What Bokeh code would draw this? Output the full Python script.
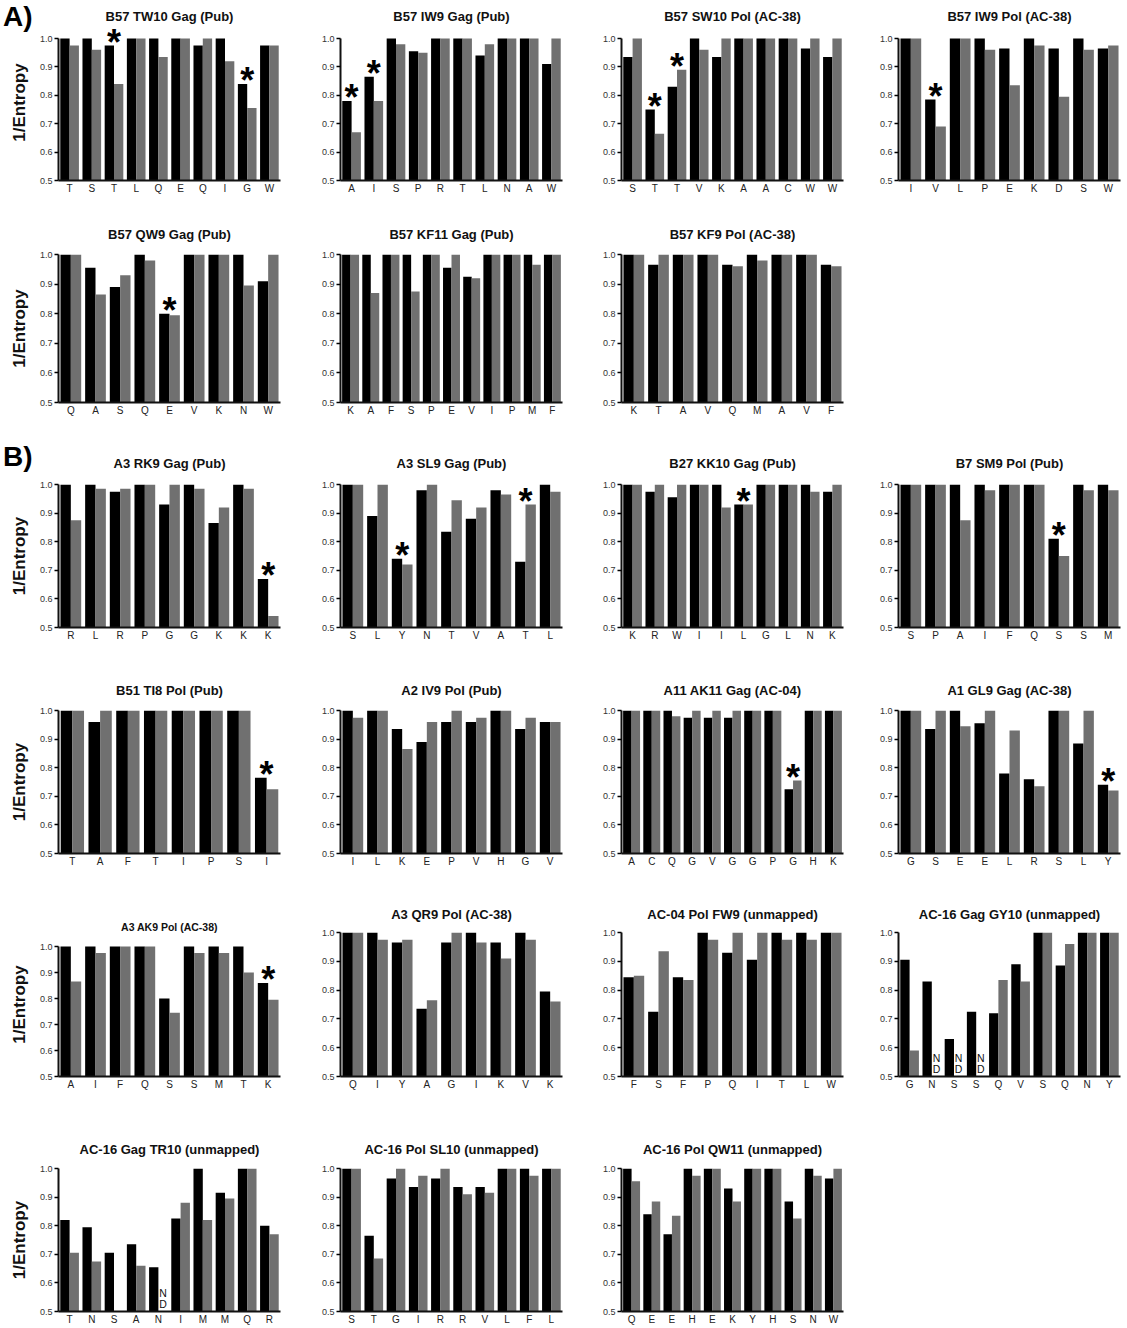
import numpy as np
from bokeh.plotting import figure
from bokeh.layouts import column, row
from bokeh.models import (Range1d, FixedTicker, PrintfTickFormatter, ColumnDataSource,
                          LabelSet, Div)
from bokeh.core.properties import value
from bokeh.transform import dodge
from bokeh.embed import file_html
from bokeh.resources import INLINE

# ---------------- data ----------------
# Panel A
tw10_title = "B57 TW10 Gag (Pub)"
tw10_labels = ["T", "S", "T", "L", "Q", "E", "Q", "I", "G", "W"]
tw10_black = [1.0, 1.0, 0.975, 1.0, 1.0, 1.0, 0.975, 1.0, 0.84, 0.975]
tw10_gray = [0.975, 0.96, 0.84, 1.0, 0.935, 1.0, 1.0, 0.92, 0.755, 0.975]
tw10_stars = [2, 8]

iw9g_title = "B57 IW9 Gag (Pub)"
iw9g_labels = ["A", "I", "S", "P", "R", "T", "L", "N", "A", "W"]
iw9g_black = [0.78, 0.865, 1.0, 0.955, 1.0, 1.0, 0.94, 1.0, 1.0, 0.91]
iw9g_gray = [0.67, 0.78, 0.98, 0.95, 1.0, 1.0, 0.98, 1.0, 1.0, 1.0]
iw9g_stars = [0, 1]

sw10_title = "B57 SW10 Pol (AC-38)"
sw10_labels = ["S", "T", "T", "V", "K", "A", "A", "C", "W", "W"]
sw10_black = [0.935, 0.75, 0.83, 1.0, 0.935, 1.0, 1.0, 1.0, 0.965, 0.935]
sw10_gray = [1.0, 0.665, 0.89, 0.96, 1.0, 1.0, 1.0, 1.0, 1.0, 1.0]
sw10_stars = [1, 2]

iw9p_title = "B57 IW9 Pol (AC-38)"
iw9p_labels = ["I", "V", "L", "P", "E", "K", "D", "S", "W"]
iw9p_black = [1.0, 0.785, 1.0, 1.0, 0.965, 1.0, 0.965, 1.0, 0.965]
iw9p_gray = [1.0, 0.69, 1.0, 0.96, 0.835, 0.975, 0.795, 0.96, 0.975]
iw9p_stars = [1]

qw9_title = "B57 QW9 Gag (Pub)"
qw9_labels = ["Q", "A", "S", "Q", "E", "V", "K", "N", "W"]
qw9_black = [1.0, 0.955, 0.89, 1.0, 0.80, 1.0, 1.0, 1.0, 0.91]
qw9_gray = [1.0, 0.865, 0.93, 0.98, 0.795, 1.0, 1.0, 0.895, 1.0]
qw9_stars = [4]

kf11_title = "B57 KF11 Gag (Pub)"
kf11_labels = ["K", "A", "F", "S", "P", "E", "V", "I", "P", "M", "F"]
kf11_black = [1.0, 1.0, 1.0, 1.0, 1.0, 0.955, 0.925, 1.0, 1.0, 1.0, 1.0]
kf11_gray = [1.0, 0.87, 1.0, 0.875, 1.0, 1.0, 0.92, 1.0, 1.0, 0.965, 1.0]
kf11_stars = []

kf9_title = "B57 KF9 Pol (AC-38)"
kf9_labels = ["K", "T", "A", "V", "Q", "M", "A", "V", "F"]
kf9_black = [1.0, 0.965, 1.0, 1.0, 0.965, 1.0, 1.0, 1.0, 0.965]
kf9_gray = [1.0, 1.0, 1.0, 1.0, 0.96, 0.98, 1.0, 1.0, 0.96]
kf9_stars = []

# Panel B
rk9_title = "A3 RK9 Gag (Pub)"
rk9_labels = ["R", "L", "R", "P", "G", "G", "K", "K", "K"]
rk9_black = [1.0, 1.0, 0.975, 1.0, 0.93, 1.0, 0.865, 1.0, 0.67]
rk9_gray = [0.875, 0.985, 0.985, 1.0, 1.0, 0.985, 0.92, 0.985, 0.54]
rk9_stars = [8]

sl9_title = "A3 SL9 Gag (Pub)"
sl9_labels = ["S", "L", "Y", "N", "T", "V", "A", "T", "L"]
sl9_black = [1.0, 0.89, 0.74, 0.98, 0.835, 0.88, 0.98, 0.73, 1.0]
sl9_gray = [1.0, 1.0, 0.72, 1.0, 0.945, 0.92, 0.965, 0.93, 0.975]
sl9_stars = [2, 7]

kk10_title = "B27 KK10 Gag (Pub)"
kk10_labels = ["K", "R", "W", "I", "I", "L", "G", "L", "N", "K"]
kk10_black = [1.0, 0.975, 0.955, 1.0, 1.0, 0.93, 1.0, 1.0, 1.0, 0.975]
kk10_gray = [1.0, 1.0, 1.0, 1.0, 0.92, 0.93, 1.0, 1.0, 0.975, 1.0]
kk10_stars = [5]

sm9_title = "B7 SM9 Pol (Pub)"
sm9_labels = ["S", "P", "A", "I", "F", "Q", "S", "S", "M"]
sm9_black = [1.0, 1.0, 1.0, 1.0, 1.0, 1.0, 0.81, 1.0, 1.0]
sm9_gray = [1.0, 1.0, 0.875, 0.98, 1.0, 1.0, 0.75, 0.98, 0.98]
sm9_stars = [6]

ti8_title = "B51 TI8 Pol (Pub)"
ti8_labels = ["T", "A", "F", "T", "I", "P", "S", "I"]
ti8_black = [1.0, 0.96, 1.0, 1.0, 1.0, 1.0, 1.0, 0.765]
ti8_gray = [1.0, 1.0, 1.0, 1.0, 1.0, 1.0, 1.0, 0.725]
ti8_stars = [7]

iv9_title = "A2 IV9 Pol (Pub)"
iv9_labels = ["I", "L", "K", "E", "P", "V", "H", "G", "V"]
iv9_black = [1.0, 1.0, 0.935, 0.89, 0.96, 0.96, 1.0, 0.935, 0.96]
iv9_gray = [0.975, 1.0, 0.865, 0.96, 1.0, 0.975, 1.0, 0.975, 0.96]
iv9_stars = []

ak11_title = "A11 AK11 Gag (AC-04)"
ak11_labels = ["A", "C", "Q", "G", "V", "G", "G", "P", "G", "H", "K"]
ak11_black = [1.0, 1.0, 1.0, 0.975, 0.975, 0.975, 1.0, 1.0, 0.725, 1.0, 1.0]
ak11_gray = [1.0, 1.0, 0.98, 1.0, 1.0, 1.0, 1.0, 1.0, 0.755, 1.0, 1.0]
ak11_stars = [8]

gl9_title = "A1 GL9 Gag (AC-38)"
gl9_labels = ["G", "S", "E", "E", "L", "R", "S", "L", "Y"]
gl9_black = [1.0, 0.935, 1.0, 0.955, 0.78, 0.76, 1.0, 0.885, 0.74]
gl9_gray = [1.0, 1.0, 0.945, 1.0, 0.93, 0.735, 1.0, 1.0, 0.72]
gl9_stars = [8]

ak9_title = "A3 AK9 Pol (AC-38)"
ak9_labels = ["A", "I", "F", "Q", "S", "S", "M", "T", "K"]
ak9_black = [1.0, 1.0, 1.0, 1.0, 0.80, 1.0, 1.0, 1.0, 0.86]
ak9_gray = [0.865, 0.975, 1.0, 1.0, 0.745, 0.975, 0.975, 0.90, 0.795]
ak9_stars = [8]

qr9_title = "A3 QR9 Pol (AC-38)"
qr9_labels = ["Q", "I", "Y", "A", "G", "I", "K", "V", "K"]
qr9_black = [1.0, 1.0, 0.965, 0.735, 0.965, 1.0, 0.965, 1.0, 0.795]
qr9_gray = [1.0, 0.975, 0.975, 0.765, 1.0, 0.965, 0.91, 0.975, 0.76]
qr9_stars = []

fw9_title = "AC-04 Pol FW9 (unmapped)"
fw9_labels = ["F", "S", "F", "P", "Q", "I", "T", "L", "W"]
fw9_black = [0.845, 0.725, 0.845, 1.0, 0.93, 0.905, 1.0, 1.0, 1.0]
fw9_gray = [0.85, 0.935, 0.835, 0.975, 1.0, 1.0, 0.975, 0.975, 1.0]
fw9_stars = []

gy10_title = "AC-16 Gag GY10 (unmapped)"
gy10_labels = ["G", "N", "S", "S", "Q", "V", "S", "Q", "N", "Y"]
gy10_black = [0.905, 0.83, 0.63, 0.725, 0.72, 0.89, 1.0, 0.885, 1.0, 1.0]
gy10_gray = [0.59, None, None, None, 0.835, 0.83, 1.0, 0.96, 1.0, 1.0]
gy10_nd = [1, 2, 3]

tr10_title = "AC-16 Gag TR10 (unmapped)"
tr10_labels = ["T", "N", "S", "A", "N", "I", "M", "M", "Q", "R"]
tr10_black = [0.82, 0.795, 0.705, 0.735, 0.655, 0.825, 1.0, 0.915, 1.0, 0.80]
tr10_gray = [0.705, 0.675, None, 0.66, None, 0.88, 0.82, 0.895, 1.0, 0.77]
tr10_nd = [4]

sl10_title = "AC-16 Pol SL10 (unmapped)"
sl10_labels = ["S", "T", "G", "I", "R", "R", "V", "L", "F", "L"]
sl10_black = [1.0, 0.765, 0.965, 0.935, 0.965, 0.935, 0.935, 1.0, 1.0, 1.0]
sl10_gray = [1.0, 0.685, 1.0, 0.975, 1.0, 0.91, 0.915, 1.0, 0.975, 1.0]

qw11_title = "AC-16 Pol QW11 (unmapped)"
qw11_labels = ["Q", "E", "E", "H", "E", "K", "Y", "H", "S", "N", "W"]
qw11_black = [1.0, 0.84, 0.77, 1.0, 1.0, 0.93, 1.0, 1.0, 0.885, 1.0, 0.965]
qw11_gray = [0.955, 0.885, 0.835, 0.975, 1.0, 0.885, 1.0, 1.0, 0.825, 0.975, 1.0]

y_ticks = [0.5, 0.6, 0.7, 0.8, 0.9, 1.0]

# ---------------- styling / layout ----------------
FONT = "Liberation Sans"
BLACK = "#000000"
GRAY = "#707070"
FRAME_W = 222
# (min_border_left, min_border_right) per column
COLS = [(58, 12), (48, 12), (47, 10), (45, 6)]
BAR_W = 0.42


def make_panel(title, labels, black, gray, col, bt, fh, bb, stars=(), nd=(),
               ylabel=False, title_size="13px", title_standoff=23, axis_px=None):
    n = len(labels)
    bl, br = COLS[col]
    # axis_px: pixel height of the 0.5..1.0 span (when shorter than the frame)
    y_end = 1.0 if axis_px is None else 0.5 + 0.5 * fh / axis_px
    p = figure(frame_width=FRAME_W, frame_height=fh,
               min_border_left=bl, min_border_right=br,
               min_border_top=bt, min_border_bottom=bb,
               x_range=Range1d(-0.5, n - 0.5), y_range=Range1d(0.5, y_end),
               output_backend="svg", toolbar_location=None, title=title)
    p.outline_line_color = None
    p.grid.visible = False
    p.background_fill_color = "white"
    p.border_fill_color = "white"
    p.title.text_font = FONT
    p.title.text_font_size = title_size
    p.title.text_font_style = "bold"
    p.title.align = "center"
    p.title.text_color = "#111111"
    p.title.standoff = title_standoff

    idx = np.arange(n)
    src = ColumnDataSource(dict(
        idx=idx,
        black=np.array(black, dtype=float),
        gray=np.array(gray, dtype=float),
    ))
    p.vbar(x=dodge("idx", -BAR_W / 2, range=p.x_range), top="black", bottom=0.5,
           width=BAR_W, source=src, fill_color=BLACK, line_color=None)
    p.vbar(x=dodge("idx", BAR_W / 2, range=p.x_range), top="gray", bottom=0.5,
           width=BAR_W, source=src, fill_color=GRAY, line_color=None)

    if len(stars):
        b = np.array(black, dtype=float)
        g = np.array(gray, dtype=float)
        top = np.fmax(b, g)
        s_src = ColumnDataSource(dict(x=list(stars), y=[float(top[i]) for i in stars],
                                      t=["*"] * len(stars)))
        p.add_layout(LabelSet(x="x", y="y", text="t", source=s_src,
                              text_align="center", text_baseline="alphabetic",
                              y_offset=-9, text_font=value(FONT), text_font_size="36px",
                              text_font_style="bold", text_color=BLACK))
    if len(nd):
        nd_src = ColumnDataSource(dict(x=list(nd), y=[0.5] * len(nd),
                                       n=["N"] * len(nd), d=["D"] * len(nd)))
        for txt, off in (("d", 2), ("n", 13)):
            p.add_layout(LabelSet(x=dodge("x", BAR_W / 2, range=p.x_range), y="y", text=txt,
                                  source=nd_src, text_align="center",
                                  text_baseline="bottom", y_offset=off,
                                  text_font=value(FONT), text_font_size="10.5px",
                                  text_color="#111111"))

    # axes
    xa = p.xaxis[0]
    xa.ticker = FixedTicker(ticks=list(range(n)))
    xa.major_label_overrides = {i: lab for i, lab in enumerate(labels)}
    xa.major_tick_out = 0
    xa.major_tick_in = 0
    xa.minor_tick_out = 0
    xa.minor_tick_in = 0
    xa.axis_line_width = 2
    xa.axis_line_color = "#111111"
    xa.major_label_text_font = FONT
    xa.major_label_text_font_size = "10px"
    xa.major_label_text_color = "#222222"
    xa.major_label_standoff = 2

    ya = p.yaxis[0]
    ya.ticker = FixedTicker(ticks=y_ticks)
    ya.formatter = PrintfTickFormatter(format="%.1f")
    ya.bounds = (0.5, 1.0)
    ya.major_tick_out = 4
    ya.major_tick_in = 0
    ya.minor_tick_out = 0
    ya.minor_tick_in = 0
    ya.major_tick_line_width = 1.5
    ya.axis_line_width = 2
    ya.axis_line_color = "#111111"
    ya.major_label_text_font = FONT
    ya.major_label_text_font_size = "9px"
    ya.major_label_text_color = "#333333"
    ya.major_label_standoff = 2
    if ylabel:
        ya.axis_label = "1/Entropy"
        ya.axis_label_text_font = FONT
        ya.axis_label_text_font_size = "17px"
        ya.axis_label_text_font_style = "bold"
        ya.axis_label_text_color = "#111111"
        ya.axis_label_standoff = 8
    return p


def tag(text, top):
    return Div(text=text, width=40, height=0, margin=0,
               styles={"position": "relative", "z-index": "10", "overflow": "visible",
                       "top": f"{top}px", "left": "3px", "font-family": FONT,
                       "font-size": "28px", "font-weight": "bold", "color": "black",
                       "line-height": "1", "white-space": "nowrap"})


# rows: (border_top, frame_height, border_bottom)
R1 = (24, 156, 28)   # frame extends 14px above 1.0 so the stars near 1.0 stay visible
R2 = (46, 148, 36)
R3 = (46, 143, 39)
R4 = (44, 143, 37)
R5 = (42, 144, 50)
R6 = (42, 143, 15)
S1, S2, S3, S4, S5, S6 = 2, 25, 27, 25, 21, 23
A1PX = 142

row1 = row(
    make_panel(tw10_title, tw10_labels, tw10_black, tw10_gray, 0, *R1, stars=tw10_stars,
               ylabel=True, title_standoff=S1, axis_px=A1PX),
    make_panel(iw9g_title, iw9g_labels, iw9g_black, iw9g_gray, 1, *R1, stars=iw9g_stars,
               title_standoff=S1, axis_px=A1PX),
    make_panel(sw10_title, sw10_labels, sw10_black, sw10_gray, 2, *R1, stars=sw10_stars,
               title_standoff=S1, axis_px=A1PX),
    make_panel(iw9p_title, iw9p_labels, iw9p_black, iw9p_gray, 3, *R1, stars=iw9p_stars,
               title_standoff=S1, axis_px=A1PX),
)
row2 = row(
    make_panel(qw9_title, qw9_labels, qw9_black, qw9_gray, 0, *R2, stars=qw9_stars,
               ylabel=True, title_standoff=S2),
    make_panel(kf11_title, kf11_labels, kf11_black, kf11_gray, 1, *R2, stars=kf11_stars,
               title_standoff=S2),
    make_panel(kf9_title, kf9_labels, kf9_black, kf9_gray, 2, *R2, stars=kf9_stars,
               title_standoff=S2),
)
row3 = row(
    make_panel(rk9_title, rk9_labels, rk9_black, rk9_gray, 0, *R3, stars=rk9_stars,
               ylabel=True, title_standoff=S3),
    make_panel(sl9_title, sl9_labels, sl9_black, sl9_gray, 1, *R3, stars=sl9_stars,
               title_standoff=S3),
    make_panel(kk10_title, kk10_labels, kk10_black, kk10_gray, 2, *R3, stars=kk10_stars,
               title_standoff=S3),
    make_panel(sm9_title, sm9_labels, sm9_black, sm9_gray, 3, *R3, stars=sm9_stars,
               title_standoff=S3),
)
row4 = row(
    make_panel(ti8_title, ti8_labels, ti8_black, ti8_gray, 0, *R4, stars=ti8_stars,
               ylabel=True, title_standoff=S4),
    make_panel(iv9_title, iv9_labels, iv9_black, iv9_gray, 1, *R4, stars=iv9_stars,
               title_standoff=S4),
    make_panel(ak11_title, ak11_labels, ak11_black, ak11_gray, 2, *R4, stars=ak11_stars,
               title_standoff=S4),
    make_panel(gl9_title, gl9_labels, gl9_black, gl9_gray, 3, *R4, stars=gl9_stars,
               title_standoff=S4),
)
row5 = row(
    make_panel(ak9_title, ak9_labels, ak9_black, ak9_gray, 0, *R5, stars=ak9_stars,
               ylabel=True, title_size="10.5px", title_standoff=0, axis_px=130),
    make_panel(qr9_title, qr9_labels, qr9_black, qr9_gray, 1, *R5, stars=qr9_stars,
               title_standoff=S5),
    make_panel(fw9_title, fw9_labels, fw9_black, fw9_gray, 2, *R5, stars=fw9_stars,
               title_standoff=S5),
    make_panel(gy10_title, gy10_labels, gy10_black, gy10_gray, 3, *R5, nd=gy10_nd,
               title_standoff=S5),
)
row6 = row(
    make_panel(tr10_title, tr10_labels, tr10_black, tr10_gray, 0, *R6, nd=tr10_nd,
               ylabel=True, title_standoff=S6),
    make_panel(sl10_title, sl10_labels, sl10_black, sl10_gray, 1, *R6, title_standoff=S6),
    make_panel(qw11_title, qw11_labels, qw11_black, qw11_gray, 2, *R6, title_standoff=S6),
)

layout = column(tag("A)", 3), row1, row2, tag("B)", 5), row3, row4, row5, row6)

open("out.html", "w").write(file_html(layout, INLINE))
